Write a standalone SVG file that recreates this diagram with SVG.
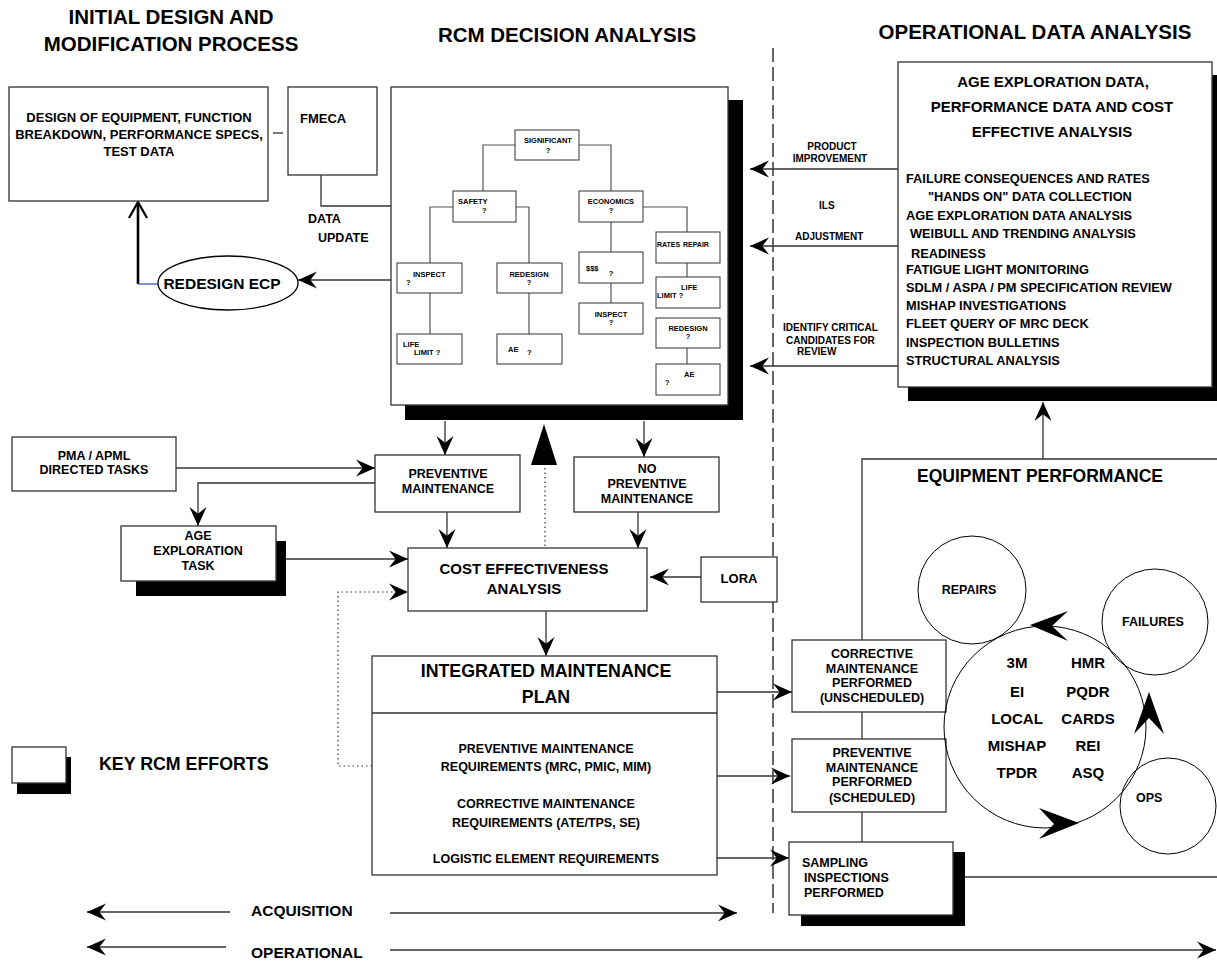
<svg xmlns="http://www.w3.org/2000/svg" width="1217" height="964" viewBox="0 0 1217 964">
<style>
text{font-family:"Liberation Sans",Arial,sans-serif;font-weight:bold;fill:#000}
.h{font-size:20.5px}
.box{fill:#fff;stroke:#333;stroke-width:1.3}
.sh{fill:#000}
.t{fill:#fff;stroke:#333;stroke-width:1}
.tl{fill:none;stroke:#555;stroke-width:1.2}
.c{fill:none;stroke:#333;stroke-width:1.3}
.dot{fill:none;stroke:#333;stroke-width:1.2;stroke-dasharray:1.5,3}
.s7{font-size:7.5px}
.s10{font-size:10px}
.s12{font-size:12.5px}
.s13{font-size:13px}
.s15{font-size:15px}
.m{text-anchor:middle}
</style>
<defs>
<marker id="ah" viewBox="0 0 20 20" refX="20" refY="10" markerWidth="19" markerHeight="19" markerUnits="userSpaceOnUse" orient="auto"><path d="M0,1 L20,10 L0,19 L7,10 Z" fill="#000"/></marker>
</defs>

<!-- headers -->
<g id="headers">
<text class="h m" x="171" y="24">INITIAL DESIGN AND</text>
<text class="h m" x="171" y="51">MODIFICATION PROCESS</text>
<text class="h m" x="567" y="42">RCM DECISION ANALYSIS</text>
<text class="h m" x="1035" y="39">OPERATIONAL DATA ANALYSIS</text>
</g>

<line x1="773" y1="48" x2="773" y2="913" stroke="#000" stroke-width="1.2" stroke-dasharray="14,5"/>

<g id="connectors">
<path class="c" d="M273,133 H283"/>
<path class="c" d="M321,175 V206 H391"/>
<path class="c" d="M391,280 H298" marker-end="url(#ah)"/>
<path d="M138,284 V203" fill="none" stroke="#000" stroke-width="2.6"/>
<path d="M129,218 L138,202 L147,218" fill="none" stroke="#000" stroke-width="2.2"/>
<path d="M138,284 H158" fill="none" stroke="#4472C4" stroke-width="1.5"/>
<path class="c" d="M176,468 H375" marker-end="url(#ah)"/>
<path class="c" d="M375,483 H198 V526" marker-end="url(#ah)"/>
<path class="c" d="M286,559 H408" marker-end="url(#ah)"/>
<path class="dot" d="M372,766 H338 V592 H408" marker-end="url(#ah)"/>
<path class="c" d="M445,421 V455" marker-end="url(#ah)"/>
<path class="c" d="M644,421 V457" marker-end="url(#ah)"/>
<path class="c" d="M447,512 V548" marker-end="url(#ah)"/>
<path class="c" d="M638,512 V548" marker-end="url(#ah)"/>
<path class="c" d="M701,577 H650" marker-end="url(#ah)"/>
<path class="c" d="M546,611 V656" marker-end="url(#ah)"/>
<path class="dot" d="M545,546 V466"/>
<polygon points="531,465 557,465 544,424" fill="#000"/>
<path class="c" d="M717,692 H792" marker-end="url(#ah)"/>
<path class="c" d="M717,776 H790" marker-end="url(#ah)"/>
<path class="c" d="M717,858 H789" marker-end="url(#ah)"/>
<path class="c" d="M898,169 H750" marker-end="url(#ah)"/>
<path class="c" d="M898,246 H750" marker-end="url(#ah)"/>
<path class="c" d="M898,366 H750" marker-end="url(#ah)"/>
<path class="c" d="M1043,459 V402" marker-end="url(#ah)"/>
<path class="c" d="M862,640 V459 H1217"/>
<path class="c" d="M862,712 V739"/>
<path class="c" d="M862,812 V842"/>
<path class="c" d="M965,877 H1217"/>
<path class="c" d="M230,912 H87" marker-end="url(#ah)"/>
<path class="c" d="M390,913 H737" marker-end="url(#ah)"/>
<path class="c" d="M226,947 H87" marker-end="url(#ah)"/>
<path class="c" d="M390,950 H1216" marker-end="url(#ah)"/>
</g>

<g id="labels">
<text class="s12" x="308" y="223">DATA</text>
<text class="s12" x="318" y="242">UPDATE</text>
<text class="s10 m" x="832" y="150">PRODUCT</text>
<text class="s10 m" x="830" y="162">IMPROVEMENT</text>
<text class="s10" x="819" y="209">ILS</text>
<text class="s10" x="795" y="240">ADJUSTMENT</text>
<text class="s10" x="783" y="331">IDENTIFY CRITICAL</text>
<text class="s10" x="786" y="344">CANDIDATES FOR</text>
<text class="s10" x="797" y="355">REVIEW</text>
<text x="251" y="916" style="font-size:15.5px">ACQUISITION</text>
<text x="251" y="958" style="font-size:15.5px">OPERATIONAL</text>
</g>

<g id="design">
<rect class="box" x="9" y="87" width="259" height="114"/>
<text class="s13 m" x="139" y="122">DESIGN OF EQUIPMENT, FUNCTION</text>
<text class="s13 m" x="139" y="139">BREAKDOWN, PERFORMANCE SPECS,</text>
<text class="s13 m" x="139" y="156">TEST DATA</text>
</g>
<g id="fmeca">
<rect class="box" x="288" y="87" width="89" height="88"/>
<text class="s13" x="300" y="123">FMECA</text>
</g>
<g id="redesign-ecp">
<ellipse cx="228" cy="283" rx="70" ry="27" fill="#fff" stroke="#000" stroke-width="1.3"/>
<text x="222" y="289" text-anchor="middle" style="font-size:15.5px">REDESIGN ECP</text>
</g>

<g id="rcm">
<rect class="sh" x="405" y="100" width="338" height="320"/>
<rect class="box" x="391" y="87" width="337" height="318"/>
<path class="tl" d="M515,145 H483 V191 M579,145 H611 V191 M453,207 H430 V263 M516,207 H529 V263 M430,293 V334 M529,293 V334 M611,222 V252 M611,283 V303 M643,207 H687 V232 M687,263 V277 M687,348 V364"/>
<rect class="t" x="515" y="130" width="64" height="30"/>
<text class="s7 m" x="548" y="143">SIGNIFICANT</text><text class="s7 m" x="548" y="153">?</text>
<rect class="t" x="453" y="191" width="63" height="31"/>
<text class="s7" x="458" y="204">SAFETY</text><text class="s7" x="482" y="213">?</text>
<rect class="t" x="579" y="191" width="64" height="31"/>
<text class="s7 m" x="611" y="204">ECONOMICS</text><text class="s7 m" x="611" y="213">?</text>
<rect class="t" x="397" y="263" width="65" height="30"/>
<text class="s7" x="413" y="277">INSPECT</text><text class="s7" x="406" y="285">?</text>
<rect class="t" x="497" y="263" width="65" height="30"/>
<text class="s7 m" x="529" y="277">REDESIGN</text><text class="s7 m" x="529" y="285">?</text>
<rect class="t" x="397" y="334" width="65" height="30"/>
<text class="s7" x="403" y="347">LIFE</text><text class="s7" x="414" y="355">LIMIT ?</text>
<rect class="t" x="497" y="334" width="65" height="30"/>
<text class="s7" x="508" y="352">AE</text><text class="s7" x="527" y="355">?</text>
<rect class="t" x="579" y="252" width="64" height="31"/>
<text class="s7" x="586" y="271">$$$</text><text class="s7 m" x="611" y="276">?</text>
<rect class="t" x="579" y="303" width="64" height="31"/>
<text class="s7 m" x="611" y="317">INSPECT</text><text class="s7 m" x="611" y="325">?</text>
<rect class="t" x="656" y="232" width="64" height="31"/>
<text x="657" y="247" style="font-size:7px">RATES</text><text x="683" y="247" style="font-size:7px">REPAIR</text>
<rect class="t" x="656" y="277" width="64" height="31"/>
<text class="s7" x="681" y="290">LIFE</text><text class="s7" x="657" y="298">LIMIT ?</text>
<rect class="t" x="656" y="318" width="64" height="30"/>
<text class="s7 m" x="688" y="331">REDESIGN</text><text class="s7 m" x="688" y="339">?</text>
<rect class="t" x="656" y="364" width="64" height="31"/>
<text class="s7" x="684" y="377">AE</text><text class="s7" x="665" y="385">?</text>
</g>

<g id="age-data">
<rect class="sh" x="908" y="75" width="320" height="326"/>
<rect class="box" x="898" y="62" width="314" height="325"/>
<text class="s15 m" x="1053" y="87">AGE EXPLORATION DATA,</text>
<text class="s15 m" x="1052" y="112">PERFORMANCE DATA AND COST</text>
<text class="s15 m" x="1052" y="137">EFFECTIVE ANALYSIS</text>
<g style="font-size:12.8px">
<text x="906" y="183">FAILURE CONSEQUENCES AND RATES</text>
<text x="928" y="201">"HANDS ON" DATA COLLECTION</text>
<text x="906" y="220">AGE EXPLORATION DATA ANALYSIS</text>
<text x="910" y="238">WEIBULL AND TRENDING ANALYSIS</text>
<text x="911" y="258">READINESS</text>
<text x="906" y="274">FATIGUE LIGHT MONITORING</text>
<text x="906" y="292">SDLM / ASPA / PM SPECIFICATION REVIEW</text>
<text x="906" y="310">MISHAP INVESTIGATIONS</text>
<text x="906" y="328">FLEET QUERY OF MRC DECK</text>
<text x="906" y="347">INSPECTION BULLETINS</text>
<text x="906" y="365">STRUCTURAL ANALYSIS</text>
</g>
</g>

<g id="pma">
<rect class="box" x="12" y="437" width="164" height="54"/>
<text class="s12 m" x="94" y="460">PMA / APML</text>
<text class="s12 m" x="94" y="474">DIRECTED TASKS</text>
</g>
<g id="pm">
<rect class="box" x="375" y="455" width="145" height="57"/>
<text class="s12 m" x="448" y="478">PREVENTIVE</text>
<text class="s12 m" x="448" y="493">MAINTENANCE</text>
</g>
<g id="nopm">
<rect class="box" x="574" y="457" width="145" height="55"/>
<text class="s12 m" x="647" y="473">NO</text>
<text class="s12 m" x="647" y="488">PREVENTIVE</text>
<text class="s12 m" x="647" y="503">MAINTENANCE</text>
</g>
<g id="age-task">
<rect class="sh" x="136" y="541" width="150" height="55"/>
<rect class="box" x="121" y="526" width="155" height="55"/>
<text class="s12 m" x="198" y="540">AGE</text>
<text class="s12 m" x="198" y="555">EXPLORATION</text>
<text class="s12 m" x="198" y="570">TASK</text>
</g>
<g id="cea">
<rect class="box" x="408" y="548" width="239" height="63"/>
<text class="s15 m" x="524" y="574">COST EFFECTIVENESS</text>
<text class="s15 m" x="524" y="594">ANALYSIS</text>
</g>
<g id="lora">
<rect class="box" x="701" y="557" width="76" height="45"/>
<text class="s13 m" x="739" y="583">LORA</text>
</g>
<g id="imp">
<rect class="box" x="372" y="656" width="345" height="219"/>
<line x1="372" y1="713" x2="717" y2="713" stroke="#333" stroke-width="1.3"/>
<text class="m" x="546" y="677" style="font-size:17.8px">INTEGRATED MAINTENANCE</text>
<text class="m" x="546" y="703" style="font-size:17.8px">PLAN</text>
<text class="s12 m" x="546" y="753">PREVENTIVE MAINTENANCE</text>
<text class="s12 m" x="546" y="771">REQUIREMENTS (MRC, PMIC, MIM)</text>
<text class="s12 m" x="546" y="808">CORRECTIVE MAINTENANCE</text>
<text class="s12 m" x="546" y="827">REQUIREMENTS (ATE/TPS, SE)</text>
<text class="s12 m" x="546" y="863">LOGISTIC ELEMENT REQUIREMENTS</text>
</g>
<g id="legend">
<rect class="sh" x="17" y="757" width="54" height="37"/>
<rect class="box" x="12" y="747" width="54" height="36"/>
<text x="99" y="770" style="font-size:17.8px">KEY RCM EFFORTS</text>
</g>

<g id="corrective">
<rect class="box" x="792" y="640" width="154" height="72"/>
<text class="s12 m" x="872" y="658">CORRECTIVE</text>
<text class="s12 m" x="872" y="673">MAINTENANCE</text>
<text class="s12 m" x="872" y="687">PERFORMED</text>
<text class="s12 m" x="872" y="702">(UNSCHEDULED)</text>
</g>
<g id="preventive-performed">
<rect class="box" x="792" y="739" width="154" height="73"/>
<text class="s12 m" x="872" y="757">PREVENTIVE</text>
<text class="s12 m" x="872" y="772">MAINTENANCE</text>
<text class="s12 m" x="872" y="786">PERFORMED</text>
<text class="s12 m" x="872" y="802">(SCHEDULED)</text>
</g>
<g id="sampling">
<rect class="sh" x="801" y="852" width="164" height="74"/>
<rect class="box" x="789" y="842" width="164" height="73"/>
<text class="s12" x="802" y="867">SAMPLING</text>
<text class="s12" x="804" y="882">INSPECTIONS</text>
<text class="s12" x="804" y="897">PERFORMED</text>
</g>

<g id="equipment-performance">
<text class="m" x="1040" y="482" style="font-size:17.5px">EQUIPMENT PERFORMANCE</text>
</g>
<g id="repairs">
<circle cx="972" cy="590" r="54" fill="none" stroke="#000" stroke-width="1"/>
<text class="s12 m" x="969" y="594">REPAIRS</text>
</g>
<g id="failures">
<circle cx="1155" cy="622" r="53" fill="none" stroke="#000" stroke-width="1"/>
<text class="s12 m" x="1153" y="626">FAILURES</text>
</g>
<g id="ops">
<circle cx="1168" cy="806" r="48" fill="none" stroke="#000" stroke-width="1"/>
<text class="s12" x="1136" y="802">OPS</text>
</g>
<g id="cycle">
<circle cx="1045" cy="727" r="101" fill="none" stroke="#000" stroke-width="1"/>
<path d="M1030,625 L1068,611 L1052,626 L1068,641 Z" fill="#000"/>
<path d="M1149,692 L1164,734 L1149,718 L1134,734 Z" fill="#000"/>
<path d="M1079,823 L1039,808 L1054,824 L1039,839 Z" fill="#000"/>
<g class="s15">
<text class="m" x="1017" y="668">3M</text>
<text class="m" x="1017" y="697">EI</text>
<text class="m" x="1017" y="724">LOCAL</text>
<text class="m" x="1017" y="751">MISHAP</text>
<text class="m" x="1017" y="778">TPDR</text>
<text class="m" x="1088" y="668">HMR</text>
<text class="m" x="1088" y="697">PQDR</text>
<text class="m" x="1088" y="724">CARDS</text>
<text class="m" x="1088" y="751">REI</text>
<text class="m" x="1088" y="778">ASQ</text>
</g>
</g>
</svg>
